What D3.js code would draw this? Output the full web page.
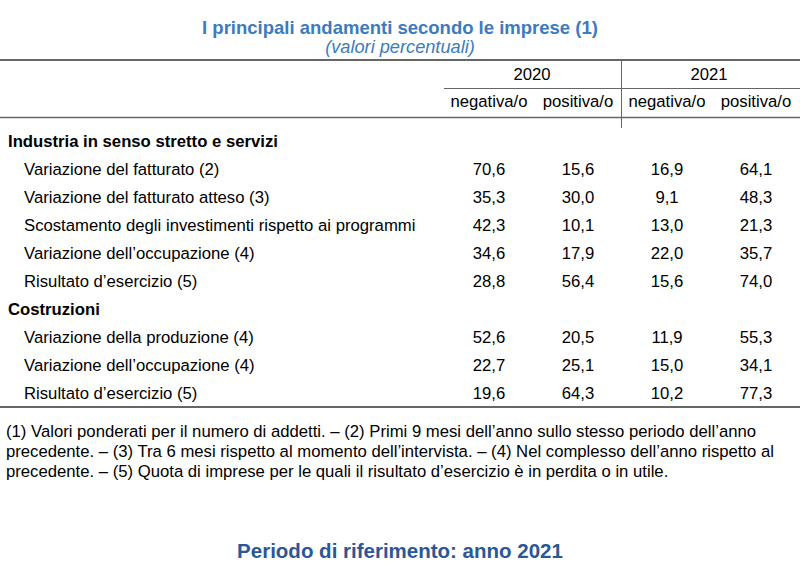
<!DOCTYPE html>
<html>
<head>
<meta charset="utf-8">
<script src="https://cdn.jsdelivr.net/npm/d3@7"></script>
<style>
body { margin: 0; background: #fff; }
svg { display: block; }
text { font-family: "Liberation Sans", Arial, sans-serif; fill: #000; }
</style>
</head>
<body>
<div class="table"></div>
<script>
var years = ["2020", "2021"];
var subCols = ["negativa/o", "positiva/o", "negativa/o", "positiva/o"];

var sections = ["Industria in senso stretto e servizi", "Costruzioni"];
var industriaRows = [
    "Variazione del fatturato (2)",
    "Variazione del fatturato atteso (3)",
    "Scostamento degli investimenti rispetto ai programmi",
    "Variazione dell\u2019occupazione (4)",
    "Risultato d\u2019esercizio (5)"
];
var industriaNeg2020 = [70.6, 35.3, 42.3, 34.6, 28.8];
var industriaPos2020 = [15.6, 30.0, 10.1, 17.9, 56.4];
var industriaNeg2021 = [16.9, 9.1, 13.0, 22.0, 15.6];
var industriaPos2021 = [64.1, 48.3, 21.3, 35.7, 74.0];

var costruzioniRows = [
    "Variazione della produzione (4)",
    "Variazione dell\u2019occupazione (4)",
    "Risultato d\u2019esercizio (5)"
];
var costruzioniNeg2020 = [52.6, 22.7, 19.6];
var costruzioniPos2020 = [20.5, 25.1, 64.3];
var costruzioniNeg2021 = [11.9, 15.0, 10.2];
var costruzioniPos2021 = [55.3, 34.1, 77.3];

var footnotes = [
    "(1) Valori ponderati per il numero di addetti. \u2013 (2) Primi 9 mesi dell\u2019anno sullo stesso periodo dell\u2019anno",
    "precedente. \u2013 (3) Tra 6 mesi rispetto al momento dell\u2019intervista. \u2013 (4) Nel complesso dell\u2019anno rispetto al",
    "precedente. \u2013 (5) Quota di imprese per le quali il risultato d\u2019esercizio \u00e8 in perdita o in utile."
];

// build the row list
var rows = [];
rows.push({ label: sections[0], head: true });
industriaRows.forEach(function (l, i) {
    rows.push({ label: l, vals: [industriaNeg2020[i], industriaPos2020[i], industriaNeg2021[i], industriaPos2021[i]] });
});
rows.push({ label: sections[1], head: true });
costruzioniRows.forEach(function (l, i) {
    rows.push({ label: l, vals: [costruzioniNeg2020[i], costruzioniPos2020[i], costruzioniNeg2021[i], costruzioniPos2021[i]] });
});

var width = 800, height = 580;
var fs = "16.7px";
var svg = d3.select(".table").append("svg")
    .attr("width", width)
    .attr("height", height);

var fmt = function (v) { return d3.format(".1f")(v).replace(".", ","); };

// column centres and row baselines
var x = d3.scalePoint().domain(d3.range(4)).range([489, 756]);
var xYear = d3.scalePoint().domain(years).range([532, 709]);
var y = d3.scalePoint().domain(d3.range(rows.length)).range([147.2, 398.5]);

// title
svg.append("text")
    .attr("x", 400).attr("y", 34)
    .attr("text-anchor", "middle")
    .style("font-size", "18.5px").style("font-weight", "bold")
    .style("fill", "#3b7bc0")
    .text("I principali andamenti secondo le imprese (1)");
svg.append("text")
    .attr("x", 400).attr("y", 53)
    .attr("text-anchor", "middle")
    .style("font-size", "18.2px").style("font-style", "italic")
    .style("fill", "#3b7bc0")
    .text("(valori percentuali)");

// rules
var lineCol = "#666";
svg.append("line").attr("x1", 0).attr("x2", 800).attr("y1", 60).attr("y2", 60)
    .attr("stroke", lineCol).attr("stroke-width", 2);
svg.append("line").attr("x1", 444).attr("x2", 800).attr("y1", 88.5).attr("y2", 88.5)
    .attr("stroke", lineCol).attr("stroke-width", 1);
svg.append("line").attr("x1", 0).attr("x2", 800).attr("y1", 117.5).attr("y2", 117.5)
    .attr("stroke", lineCol).attr("stroke-width", 1.3);
svg.append("line").attr("x1", 621.5).attr("x2", 621.5).attr("y1", 60).attr("y2", 128)
    .attr("stroke", lineCol).attr("stroke-width", 1);
svg.append("line").attr("x1", 0).attr("x2", 800).attr("y1", 407).attr("y2", 407)
    .attr("stroke", lineCol).attr("stroke-width", 2);

// headers
svg.selectAll(".year").data(years).enter().append("text")
    .attr("class", "year")
    .attr("x", function (d) { return xYear(d); })
    .attr("y", 79.5)
    .attr("text-anchor", "middle")
    .style("font-size", fs)
    .text(function (d) { return d; });

svg.selectAll(".sub").data(subCols).enter().append("text")
    .attr("class", "sub")
    .attr("x", function (d, i) { return x(i); })
    .attr("y", 106.5)
    .attr("text-anchor", "middle")
    .style("font-size", fs)
    .text(function (d) { return d; });

// body
var g = svg.selectAll(".row").data(rows).enter().append("g")
    .attr("class", "row")
    .attr("transform", function (d, i) { return "translate(0," + y(i) + ")"; });

g.append("text")
    .attr("x", function (d) { return d.head ? 8 : 24; })
    .style("font-size", fs)
    .style("font-weight", function (d) { return d.head ? "bold" : "normal"; })
    .text(function (d) { return d.label; });

g.selectAll(".val").data(function (d) { return d.vals || []; }).enter().append("text")
    .attr("class", "val")
    .attr("x", function (d, i) { return x(i); })
    .attr("text-anchor", "middle")
    .style("font-size", fs)
    .text(fmt);

// notes
svg.selectAll(".note").data(footnotes).enter().append("text")
    .attr("class", "note")
    .attr("x", 6)
    .attr("y", function (d, i) { return 437 + i * 20; })
    .style("font-size", fs)
    .text(function (d) { return d; });

svg.append("text")
    .attr("x", 400).attr("y", 558)
    .attr("text-anchor", "middle")
    .style("font-size", "20.5px").style("font-weight", "bold")
    .style("fill", "#2b5797")
    .text("Periodo di riferimento: anno 2021");
</script>
</body>
</html>
